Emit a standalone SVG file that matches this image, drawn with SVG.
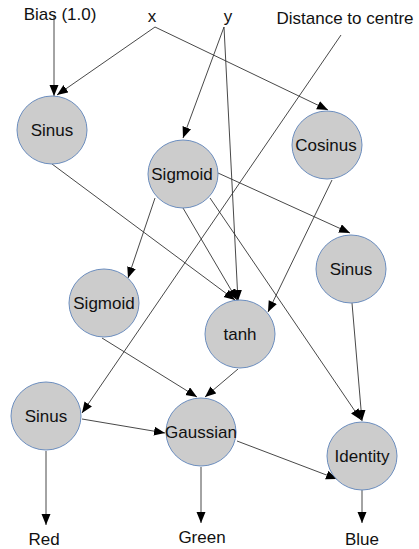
<svg xmlns="http://www.w3.org/2000/svg" width="419" height="549" viewBox="0 0 419 549">
<style>
.n{fill:#cccccc;stroke:#6c8ebf;stroke-width:1}
.t{font-family:"Liberation Sans",Arial,sans-serif;font-size:17px;fill:#111;text-anchor:middle}
.e{stroke:#333;stroke-width:0.9;fill:none;marker-end:url(#a)}
</style>
<defs>
<marker id="a" markerUnits="userSpaceOnUse" markerWidth="11" markerHeight="10" refX="11" refY="4.5" orient="auto">
<path d="M0,0 L11,4.5 L0,9 z" fill="#000"/>
</marker>
</defs>
<rect width="419" height="549" fill="#fff"/>
<g id="connectors">
<line class="e" x1="54" y1="15" x2="54" y2="96"/>
<line class="e" x1="155" y1="27" x2="57" y2="95"/>
<line class="e" x1="155" y1="27" x2="328" y2="110"/>
<line class="e" x1="224" y1="27" x2="183" y2="138"/>
<line class="e" x1="224" y1="27" x2="238" y2="301"/>
<line class="e" x1="341" y1="35" x2="82" y2="413"/>
<line class="e" x1="52" y1="164" x2="235" y2="300"/>
<line class="e" x1="155" y1="198" x2="128" y2="278"/>
<line class="e" x1="183" y1="208" x2="237" y2="300"/>
<line class="e" x1="218" y1="173" x2="350" y2="233"/>
<line class="e" x1="210" y1="198" x2="361" y2="420"/>
<line class="e" x1="332" y1="180" x2="268" y2="312"/>
<line class="e" x1="102" y1="338" x2="197" y2="397"/>
<line class="e" x1="238" y1="369" x2="205" y2="397"/>
<line class="e" x1="82" y1="419" x2="165" y2="433"/>
<line class="e" x1="237" y1="441" x2="337" y2="479"/>
<line class="e" x1="352" y1="303" x2="362" y2="421"/>
<line class="e" x1="46" y1="451" x2="46" y2="525"/>
<line class="e" x1="201" y1="467" x2="201" y2="523"/>
<line class="e" x1="362" y1="490" x2="362" y2="523"/>
</g>
<g id="bias"><text class="t" x="60" y="20">Bias (1.0)</text></g>
<g id="x"><text class="t" x="152" y="22">x</text></g>
<g id="y"><text class="t" x="228" y="22">y</text></g>
<g id="dist"><text class="t" x="345" y="24">Distance to centre</text></g>
<g id="sinus1"><ellipse class="n" cx="52" cy="130" rx="35" ry="34"/><text class="t" x="52" y="136">Sinus</text></g>
<g id="sigmoid1"><ellipse class="n" cx="183" cy="174" rx="35" ry="34"/><text class="t" x="182" y="180">Sigmoid</text></g>
<g id="cosinus"><ellipse class="n" cx="327" cy="145" rx="35" ry="34"/><text class="t" x="326" y="151">Cosinus</text></g>
<g id="sinus2"><ellipse class="n" cx="351" cy="269" rx="35" ry="34"/><text class="t" x="351" y="275">Sinus</text></g>
<g id="sigmoid2"><ellipse class="n" cx="104" cy="303" rx="35" ry="34"/><text class="t" x="104" y="309">Sigmoid</text></g>
<g id="tanh"><ellipse class="n" cx="240" cy="334" rx="35" ry="34"/><text class="t" x="240" y="340">tanh</text></g>
<g id="sinus3"><ellipse class="n" cx="46" cy="416" rx="35" ry="34"/><text class="t" x="46" y="422">Sinus</text></g>
<g id="gaussian"><ellipse class="n" cx="201" cy="432" rx="35" ry="34"/><text class="t" x="201" y="438">Gaussian</text></g>
<g id="identity"><ellipse class="n" cx="362" cy="456" rx="35" ry="34"/><text class="t" x="362" y="462">Identity</text></g>
<g id="red"><text class="t" x="44" y="545">Red</text></g>
<g id="green"><text class="t" x="202" y="543">Green</text></g>
<g id="blue"><text class="t" x="362" y="545">Blue</text></g>
</svg>
